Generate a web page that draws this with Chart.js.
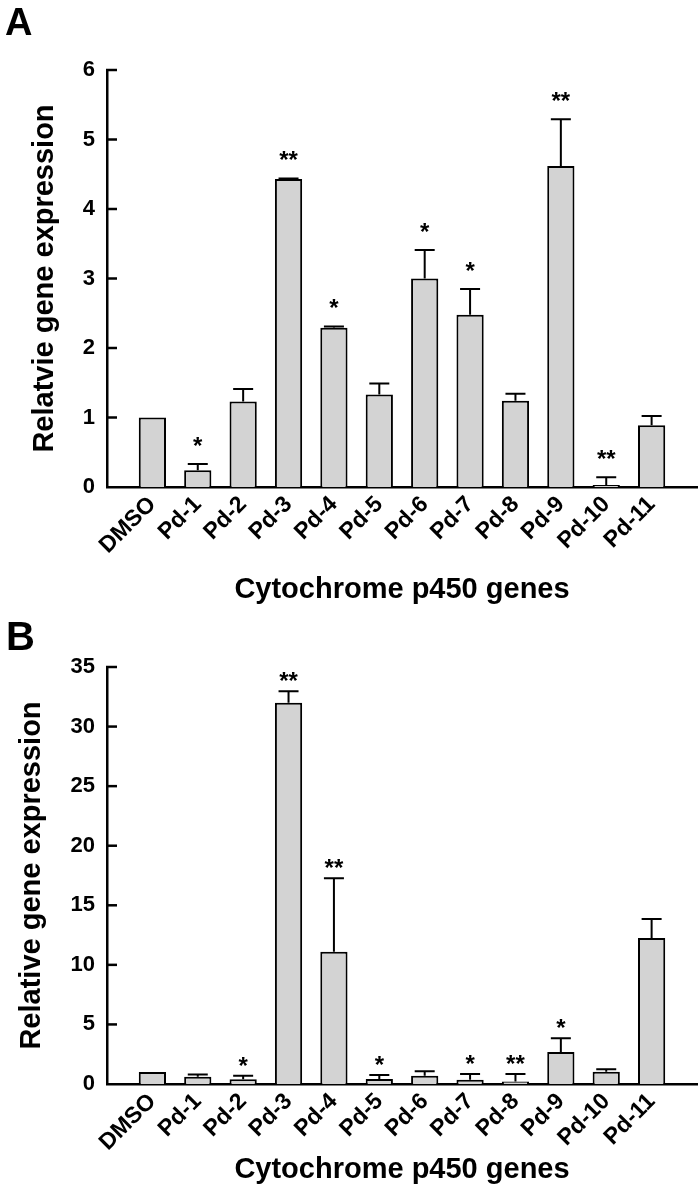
<!DOCTYPE html>
<html lang="en">
<head>
<meta charset="UTF-8">
<title>Cytochrome p450 genes</title>
<style>
  body { margin: 0; background: #fff; }
  canvas { display: block; }
</style>
</head>
<body>
<canvas id="chartA" width="700" height="610"></canvas>
<canvas id="chartB" width="700" height="583"></canvas>

<script src="https://cdn.jsdelivr.net/npm/chart.js"></script>
<script>
// categories shared by both panels
const categories = ['DMSO', 'Pd-1', 'Pd-2', 'Pd-3', 'Pd-4', 'Pd-5', 'Pd-6', 'Pd-7', 'Pd-8', 'Pd-9', 'Pd-10', 'Pd-11'];

// panel A
const exprA = [1.0, 0.24, 1.23, 4.43, 2.29, 1.33, 3.0, 2.48, 1.24, 4.62, 0.03, 0.89];
const errA  = [0, 0.09, 0.18, 0.01, 0.02, 0.16, 0.41, 0.37, 0.10, 0.67, 0.11, 0.13];
const sigA  = ['', '*', '', '**', '*', '', '*', '*', '', '**', '**', ''];
const yMaxA = 6, yStepA = 1;

// panel B
const exprB = [1.0, 0.6, 0.4, 32.0, 11.1, 0.42, 0.7, 0.36, 0.2, 2.69, 1.03, 12.25];
const errB  = [0, 0.2, 0.3, 0.96, 6.16, 0.34, 0.36, 0.48, 0.64, 1.14, 0.2, 1.6];
const sigB  = ['', '', '*', '**', '**', '*', '', '*', '**', '*', '', ''];
const yMaxB = 35, yStepB = 5;

const FONT = "'Liberation Sans', Arial, sans-serif";
Chart.defaults.font.family = FONT;
Chart.defaults.font.weight = 'bold';
Chart.defaults.color = '#000';

// error bars (upper only), significance stars, inward y ticks, panel letter
const extras = {
    id: 'extras',
    afterDraw(chart, args, opts) {
        const ctx = chart.ctx;
        const xs = chart.scales.x, ys = chart.scales.y;
        const area = chart.chartArea;
        ctx.save();
        ctx.strokeStyle = '#000';
        ctx.fillStyle = '#000';

        // y ticks pointing into the plot
        ctx.lineWidth = 2.5;
        ys.ticks.forEach(t => {
            if (t.value === 0) return;
            const py = ys.getPixelForValue(t.value);
            ctx.beginPath();
            ctx.moveTo(area.left - 1, py);
            ctx.lineTo(area.left + 10, py);
            ctx.stroke();
        });

        const vals = chart.data.datasets[0].data;
        ctx.lineWidth = 2;
        ctx.font = 'bold 24px ' + FONT;
        ctx.textAlign = 'center';
        ctx.textBaseline = 'alphabetic';
        vals.forEach((d, i) => {
            const px = xs.getPixelForValue(d.x);
            const yBar = ys.getPixelForValue(d.y);
            const yErr = ys.getPixelForValue(d.y + opts.err[i]);
            if (opts.err[i] > 0) {
                ctx.beginPath();
                ctx.moveTo(px, yBar);
                ctx.lineTo(px, yErr);
                ctx.moveTo(px - 10, yErr);
                ctx.lineTo(px + 10, yErr);
                ctx.stroke();
            }
            if (opts.sig[i]) ctx.fillText(opts.sig[i], px, yErr - opts.starGap);
        });

        ctx.textAlign = 'left';
        ctx.font = 'bold ' + opts.letterSize + 'px ' + FONT;
        ctx.fillText(opts.letter, opts.letterX, opts.letterY);
        ctx.restore();
    }
};

function makeChart(id, values, err, sig, yMax, yStep, yTitle, o) {
    return new Chart(document.getElementById(id), {
        type: 'bar',
        data: {
            datasets: [{
                data: values.map((v, i) => ({ x: i, y: v })),
                backgroundColor: '#d3d3d3',
                borderColor: '#000',
                borderWidth: 2,
                barPercentage: 0.6,
                categoryPercentage: 1.0
            }]
        },
        options: {
            responsive: false,
            animation: false,
            layout: { padding: { top: o.top, right: 3, bottom: 0, left: 0 } },
            plugins: {
                legend: { display: false },
                tooltip: { enabled: false },
                extras: { err: err, sig: sig, starGap: o.starGap, letter: o.letter,
                          letterX: o.letterX, letterY: o.letterY, letterSize: o.letterSize }
            },
            scales: {
                x: {
                    type: 'linear',
                    min: -1,
                    max: categories.length,
                    offset: false,
                    z: 1,
                    afterFit: s => { s.height = o.xHeight; },
                    afterBuildTicks: s => {
                        s.ticks = categories.map((c, i) => ({ value: i }));
                    },
                    grid: { display: false, drawTicks: false },
                    border: { display: true, color: '#000', width: 2.5 },
                    ticks: {
                        autoSkip: false,
                        minRotation: 45,
                        maxRotation: 45,
                        padding: 4,
                        font: { size: 23, weight: 'bold' },
                        callback: v => categories[v] ?? ''
                    },
                    title: {
                        display: true,
                        text: 'Cytochrome p450 genes',
                        font: { size: 29, weight: 'bold' },
                        padding: { top: 0, bottom: o.xTitlePad }
                    }
                },
                y: {
                    min: 0,
                    max: yMax,
                    z: 1,
                    afterFit: s => { s.width = 107; },
                    grid: { display: false, drawTicks: false },
                    border: { display: true, color: '#000', width: 2.5 },
                    ticks: {
                        stepSize: yStep,
                        padding: 12,
                        font: { size: 22, weight: 'bold' }
                    },
                    title: {
                        display: true,
                        text: yTitle,
                        font: { size: 29, weight: 'bold' },
                        padding: { top: o.yTitlePad, bottom: 0 }
                    }
                }
            }
        },
        plugins: [extras]
    });
}

makeChart('chartA', exprA, errA, sigA, yMaxA, yStepA, 'Relatvie gene expression',
    { top: 70, xHeight: 123, xTitlePad: 3, yTitlePad: 28, starGap: 10,
      letter: 'A', letterX: 5, letterY: 35, letterSize: 38 });

makeChart('chartB', exprB, errB, sigB, yMaxB, yStepB, 'Relative gene expression',
    { top: 57, xHeight: 109, xTitlePad: 6, yTitlePad: 15, starGap: 2,
      letter: 'B', letterX: 6, letterY: 40, letterSize: 40 });
</script>
</body>
</html>
